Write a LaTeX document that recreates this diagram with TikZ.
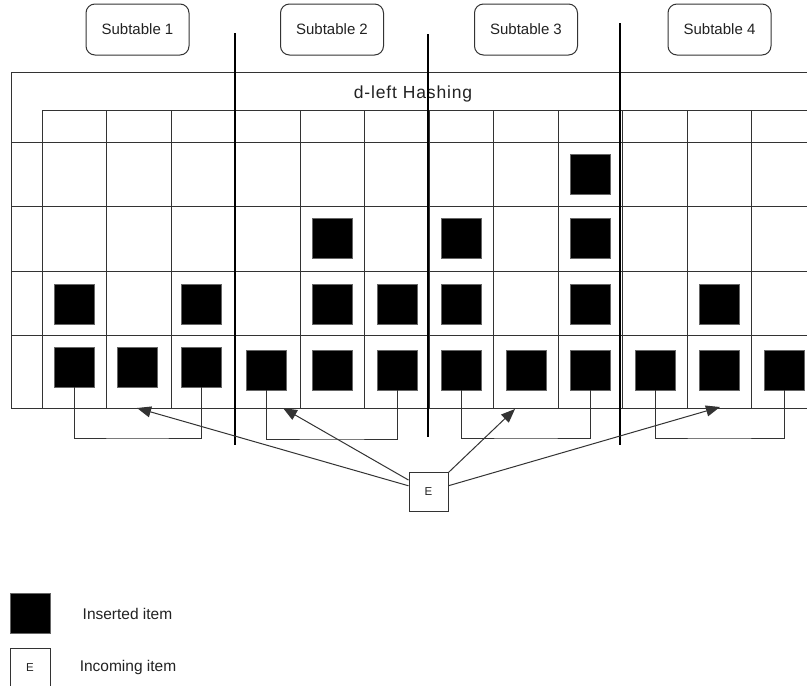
\documentclass[tikz,border=0pt]{standalone}
\usepackage{fontspec}
\setmainfont{Liberation Sans}
\usetikzlibrary{arrows.meta}
\definecolor{ln}{HTML}{333333}
\definecolor{tx}{HTML}{222222}
\begin{document}
\begin{tikzpicture}[x=1pt,y=-1pt,
  grid/.style={draw=ln, line width=1pt},
  sep/.style={draw=black, line width=2pt},
  item/.style={draw=black!60, fill=black, minimum size=40pt, inner sep=0pt, line width=0.8pt},
  incoming/.style={draw=ln, fill=white, minimum size=39pt, inner sep=0pt, line width=1pt, text=tx, font=\fontsize{11.5}{13}\selectfont},
  subtab/.style={draw=ln, rounded corners=9pt, minimum width=103pt, minimum height=51pt, inner sep=0pt, line width=1pt, text=tx, font=\fontsize{15}{18}\selectfont},
  legtext/.style={font=\fontsize{15.5}{18}\selectfont, inner sep=0pt, text=tx},
  arr/.style={draw=ln, line width=1pt, -{Triangle[length=14pt,width=11pt]}},
  bracket/.style={draw=ln, line width=1pt}
]
\useasboundingbox (0,0) rectangle (807,686);
\clip (0,0) rectangle (807,686);
\fill[white] (0,0) rectangle (807,686);
% table grid
\draw[grid] (11,72) rectangle (816,408);
\draw[grid] (42,110) -- (816,110);
\foreach \y in {142,206,271,335} \draw[grid] (11,\y) -- (816,\y);
\foreach \k in {0,...,12} \draw[grid] ({42+64.5*\k},110) -- ({42+64.5*\k},408);
\node[text=tx, inner sep=0pt, font=\fontsize{17.5}{20}\selectfont\addfontfeature{LetterSpace=5}] (title) at (413,94) {d-left Hashing};
% inserted items
\foreach \c/\x/\y in {1/74/367,2/137/367,3/201/367,4/266/370,5/332/370,6/397/370,7/461/370,8/526/370,9/590/370,10/655/370,11/719/370,12/784/370}
  \node[item] (D\c) at (\x,\y) {};
\foreach \c/\x in {1/74,3/201,5/332,6/397,7/461,9/590,11/719}
  \node[item] (C\c) at (\x,304) {};
\foreach \c/\x in {5/332,7/461,9/590}
  \node[item] (B\c) at (\x,238.5) {};
\node[item] (A9) at (590,174) {};
% subtable labels
\node[subtab] (st1) at (137.5,29.5) {Subtable 1};
\node[subtab] (st2) at (332,29.5) {Subtable 2};
\node[subtab] (st3) at (526,29.5) {Subtable 3};
\node[subtab] (st4) at (719.5,29.5) {Subtable 4};
% separators
\coordinate (v1a) at (234.5,33);  \coordinate (v1b) at (234.5,445);
\coordinate (v2a) at (428,34);    \coordinate (v2b) at (428,437);
\coordinate (v3a) at (620,23);    \coordinate (v3b) at (620,445);
\draw[sep] (v1a) -- (v1b);
\draw[sep] (v2a) -- (v2b);
\draw[sep] (v3a) -- (v3b);
% brackets
\coordinate (bk1) at (137,438);
\coordinate (bk2) at (332,439);
\coordinate (bk3) at (526,438);
\coordinate (bk4) at (719,438);
\draw[bracket] (D1.south) |- (bk1) -| (D3.south);
\draw[bracket] (D4.south) |- (bk2) -| (D6.south);
\draw[bracket] (D7.south) |- (bk3) -| (D9.south);
\draw[bracket] (D10.south) |- (bk4) -| (D12.south);
% incoming item and arrows
\node[incoming] (E) at (428.5,491.5) {E};
\coordinate (t1) at (137,408);
\coordinate (t2) at (283,408);
\coordinate (t3) at (515,409);
\coordinate (t4) at (720,407);
\draw[arr] (E) -- (t1);
\draw[arr] (E) -- (t2);
\draw[arr] (E) -- (t3);
\draw[arr] (E) -- (t4);
% legend
\node[item] (legA) at (30,613) {};
\node[legtext] (legAt) at (127.5,614) {Inserted item};
\node[incoming, minimum size=40pt] (legE) at (30,668) {E};
\node[legtext] (legEt) at (128,667) {Incoming item};
\end{tikzpicture}
\end{document}
